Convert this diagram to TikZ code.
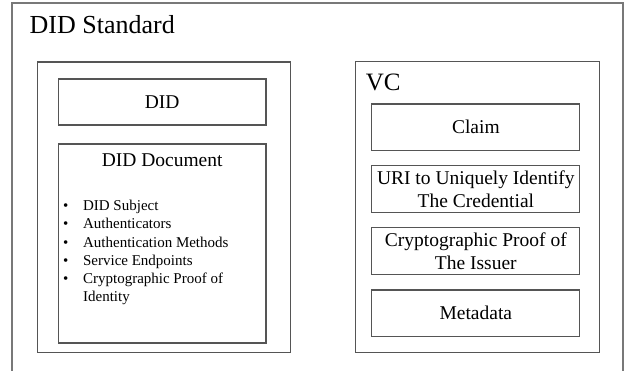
\documentclass[tikz,border=0pt]{standalone}
\usepackage{fontspec}
\setmainfont{Liberation Serif}
\begin{document}
\begin{tikzpicture}[x=1pt,y=-1pt,
  frame/.style={draw=linegray, line width=1.2pt, rectangle, inner sep=0pt},
  outerframe/.style={draw=outergray, line width=1.3pt, rectangle, inner sep=0pt},
  itembox/.style={frame, minimum width=208pt, minimum height=46.5pt, align=center,
    font=\fontsize{19.5}{23.5}\selectfont},
  lbl/.style={inner sep=0pt}
]
\definecolor{linegray}{RGB}{85,85,85}
\definecolor{outergray}{RGB}{120,120,120}
\useasboundingbox (0,0) rectangle (624,371);
% outer standard box
\node[outerframe, minimum width=611pt, minimum height=372pt] (std) at (317.5,189) {};
\node[lbl, anchor=base west, font=\fontsize{26}{30}\selectfont] (stdlbl) at (29.5,33.3) {DID Standard};
% left DID box
\node[frame, minimum width=253.4pt, minimum height=290.5pt] (didside) at (164,207.25) {};
\node[frame, minimum width=207.7pt, minimum height=46pt, font=\fontsize{19.5}{23.5}\selectfont] (did) at (162.15,102) {DID};
\node[frame, minimum width=207.7pt, minimum height=199pt] (diddoc) at (162.15,243.5) {};
\node[lbl, anchor=base, font=\fontsize{19.5}{23.5}\selectfont] (diddoclbl) at (162.15,167) {DID Document};
\node[lbl, anchor=base west, align=left, font=\fontsize{15}{18.3}\selectfont] (items) at (63,210.5) {%
  \begin{tabular}[t]{@{}p{19.9pt}@{}l@{}}
  \textbullet & DID Subject\\
  \textbullet & Authenticators\\
  \textbullet & Authentication Methods\\
  \textbullet & Service Endpoints\\
  \textbullet & Cryptographic Proof of\\
   & Identity
  \end{tabular}};
% right VC box
\node[frame, minimum width=244pt, minimum height=290.8pt] (vc) at (477.5,207.1) {};
\node[lbl, anchor=base west, font=\fontsize{25}{29}\selectfont] (vclbl) at (365.7,90.7) {VC};
\node[itembox] (claim) at (475.85,127.25) {Claim};
\node[itembox] (uri) at (475.85,189.15) {URI to Uniquely Identify\\The Credential};
\node[itembox] (proof) at (475.85,251.15) {Cryptographic Proof of\\The Issuer};
\node[itembox] (meta) at (475.85,313.25) {Metadata};
\end{tikzpicture}
\end{document}
